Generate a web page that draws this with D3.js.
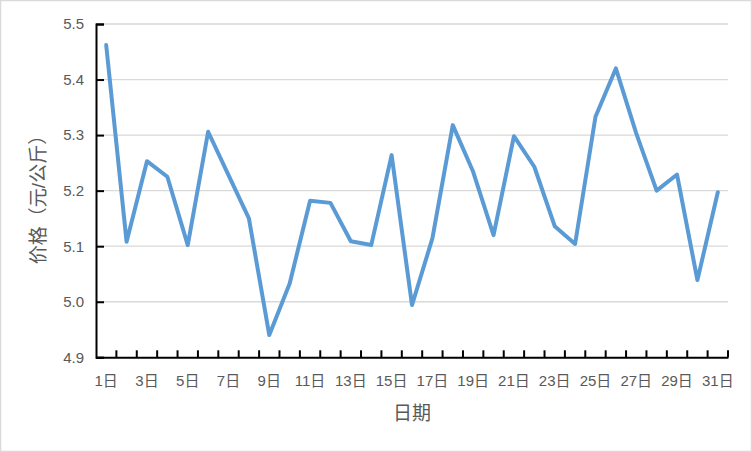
<!DOCTYPE html>
<html><head><meta charset="utf-8">
<script src="https://cdn.jsdelivr.net/npm/d3@7"></script>
<style>body{margin:0;background:#fff}svg{display:block}</style>
</head><body>
<svg id="c" width="752" height="452"></svg>
<script>
const days = d3.range(1, 32).map(d => d + "日");
const prices = [5.462,5.108,5.253,5.225,5.102,5.306,5.228,5.150,4.940,5.033,
  5.182,5.178,5.109,5.102,5.264,4.994,5.114,5.318,5.234,5.120,
  5.298,5.243,5.136,5.104,5.333,5.420,5.303,5.200,5.229,5.039,5.197];
const yTicks = [4.9,5.0,5.1,5.2,5.3,5.4,5.5];
const xLabels = days.filter((d,i) => i % 2 === 0);
const yTitle = "价格（元/公斤）";
const xTitle = "日期";

const W = 752, H = 452;
const L = 96, R = 728, T = 24, B = 357.3;
const svg = d3.select("#c");
const font = "'Liberation Sans','Noto Sans CJK SC',sans-serif";

svg.append("rect").attr("x",0.5).attr("y",0.5).attr("width",W-1).attr("height",H-1)
  .attr("fill","#fff").attr("stroke","#d9d9d9").attr("stroke-width",1.5);

const x = d3.scaleBand().domain(days).range([L,R]).padding(0);
const y = d3.scaleLinear().domain([4.9,5.5]).range([B,T]);

// grid
svg.append("g").selectAll("line").data(yTicks.slice(1)).join("line")
  .attr("x1",L).attr("x2",R).attr("y1",d=>y(d)).attr("y2",d=>y(d))
  .attr("stroke","#d9d9d9").attr("stroke-width",1.3);

// y axis
const ya = svg.append("g").attr("transform",`translate(${L},0)`)
  .call(d3.axisLeft(y).tickValues(yTicks).tickFormat(d3.format(".1f")).tickSize(-8).tickPadding(12));
ya.select(".domain").attr("stroke","#000").attr("stroke-width",2);
ya.selectAll(".tick line").attr("stroke","#000").attr("stroke-width",2);
ya.selectAll("text").attr("font-family",font).attr("font-size",15).attr("fill","#595959");

// x axis
const xa = svg.append("g").attr("transform",`translate(0,${B})`)
  .call(d3.axisBottom(x).tickValues(xLabels).tickSize(0).tickPadding(18));
xa.select(".domain").attr("stroke","#000").attr("stroke-width",2);
xa.selectAll("text").attr("font-family",font).attr("font-size",15).attr("fill","#595959");
// band boundary ticks
const bounds = days.map(d => x(d)).concat([R]).slice(1);
xa.append("g").selectAll("line").data(bounds).join("line")
  .attr("x1",d=>d).attr("x2",d=>d).attr("y1",0).attr("y2",-7)
  .attr("stroke","#000").attr("stroke-width",2);

// line
const line = d3.line().x((d,i)=>x(days[i])+x.bandwidth()/2).y(d=>y(d));
svg.append("path").datum(prices).attr("d",line).attr("fill","none")
  .attr("stroke","#5b9bd5").attr("stroke-width",4).attr("stroke-linejoin","round").attr("stroke-linecap","round");

// titles
svg.append("text").attr("x",(L+R)/2).attr("y",420).attr("text-anchor","middle")
  .attr("font-family",font).attr("font-size",19).attr("fill","#595959").text(xTitle);
svg.append("text").attr("transform","translate(45,195) rotate(-90)").attr("text-anchor","middle")
  .attr("font-family",font).attr("font-size",19).attr("fill","#595959").text(yTitle);
</script>
</body></html>
